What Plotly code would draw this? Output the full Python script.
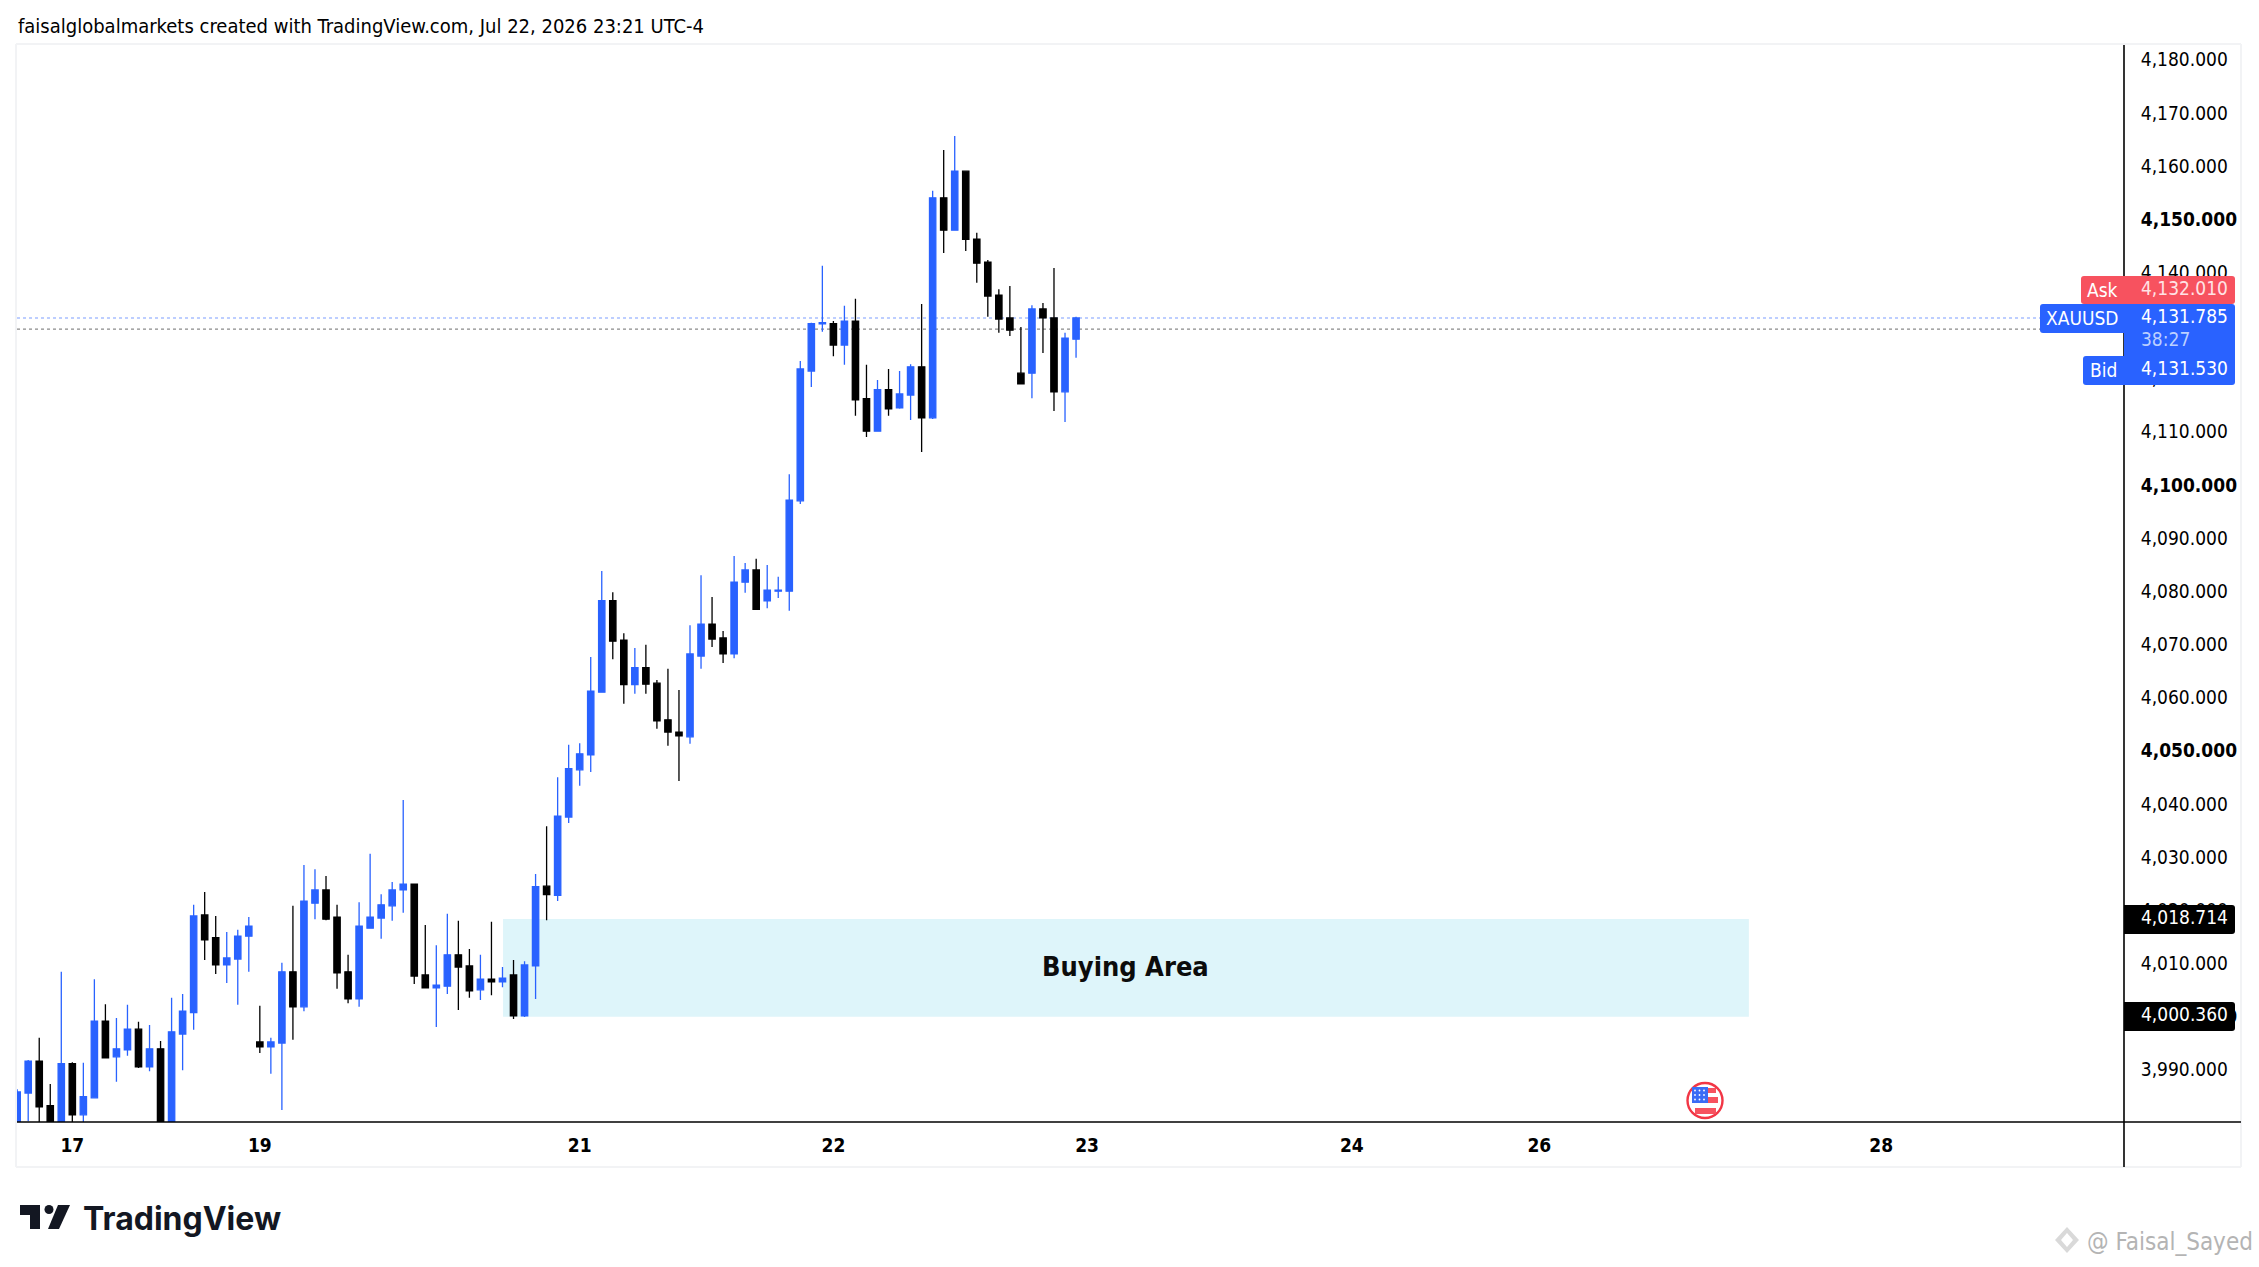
#!/usr/bin/env python3
"""XAUUSD 4H chart with the buying area, TradingView snapshot look"""

import plotly.graph_objects as go

W, H = 2259, 1267
PLOT_L, PLOT_R, PLOT_T, PLOT_B = 17, 2124, 45, 1122
FRAME_R, FRAME_B = 2241, 1167

BLUE = "#2962FF"
BLACK = "#000000"
RED = "#F7525F"
FONT = "DejaVu Sans Condensed, DejaVu Sans"

bar_index = list(range(-1, 96))

opens = [3976, 3986.0, 3992.0, 3983.6, 3975, 3991.5, 3981.9, 3985.1, 3999.5, 3992.8,
         3994.1, 3998.0, 3990.9, 3994.3, 3975, 3997.1, 4001.1, 4019.5, 4015.2, 4010.1,
         4011.2, 4015.5, 3995.6, 3994.7, 3995.4, 4008.8, 4002.2, 4021.7, 4024.2, 4019.1,
         4008.8, 4003.7, 4017.0, 4018.9, 4021.2, 4024.2, 4025.3, 4008.2, 4005.8, 4006.1,
         4012.0, 4009.9, 4005.4, 4007.4, 4006.9, 4008.2, 4000.5, 4009.9, 4024.9, 4023.2,
         4037.9, 4046.8, 4049.6, 4061.4, 4078.6, 4071.2, 4062.8, 4066.0, 4063.1, 4056.2,
         4053.9, 4053.0, 4068.2, 4074.2, 4071.6, 4068.6, 4082.1, 4084.4, 4078.6, 4080.4,
         4080.4, 4097.4, 4121.8, 4130.7, 4130.7, 4126.7, 4131.2, 4116.6, 4110.5, 4118.3,
         4114.9, 4117.3, 4122.6, 4113.0, 4154.4, 4148.3, 4159.4, 4146.6, 4142.3, 4136.1,
         4131.8, 4121.4, 4121.4, 4133.5, 4131.8, 4117.9, 4127.8]
highs = [3986.7, 3992.2, 3996.4, 3987.7, 4008.8, 3991.8, 3991.7, 4007.4, 4002.7, 4000.1,
         4002.6, 3999.4, 3998.8, 3995.8, 4003.9, 4004.6, 4021.4, 4023.8, 4019.3, 4016.3,
         4016.7, 4019.1, 4002.4, 3996.4, 4010.5, 4021.2, 4028.9, 4028.1, 4026.8, 4021.4,
         4012.0, 4021.9, 4031.0, 4023.4, 4025.7, 4041.1, 4025.3, 4017.6, 4013.8, 4019.7,
         4018.4, 4013.1, 4012.0, 4018.2, 4009.7, 4011.0, 4010.8, 4027.2, 4036.2, 4045.4,
         4051.5, 4051.8, 4068.0, 4084.2, 4080.2, 4072.5, 4069.7, 4070.3, 4063.7, 4065.8,
         4061.8, 4074.0, 4083.4, 4079.3, 4072.9, 4087.0, 4085.7, 4086.5, 4085.3, 4083.1,
         4102.4, 4123.7, 4130.9, 4141.6, 4131.2, 4134.1, 4135.4, 4123.0, 4120.1, 4122.2,
         4121.8, 4123.1, 4134.4, 4155.7, 4163.4, 4166.0, 4159.4, 4147.8, 4142.7, 4137.2,
         4137.8, 4130.1, 4134.2, 4134.6, 4141.2, 4129.0, 4132.0]
lows = [3975, 3980.7, 3979, 3974, 3972, 3976, 3978, 3985.1, 3992.6, 3988.1,
        3993.0, 3990.7, 3990.1, 3970, 3973, 3990.3, 3997.9, 4011.0, 4008.4, 4006.7,
        4002.6, 4008.8, 3993.5, 3989.6, 3982.8, 3996.0, 4001.4, 4018.7, 4018.5, 4005.6,
        4002.9, 4002.2, 4017.0, 4015.0, 4018.4, 4019.9, 4006.5, 4005.8, 3998.4, 4004.6,
        4001.6, 4003.9, 4003.5, 4004.4, 4005.9, 3999.9, 4000.3, 4003.7, 4018.5, 4022.1,
        4036.8, 4043.8, 4046.4, 4061.4, 4067.6, 4059.2, 4061.1, 4061.1, 4054.5, 4051.3,
        4044.7, 4051.7, 4065.8, 4069.9, 4066.9, 4067.8, 4080.1, 4076.9, 4077.2, 4079.1,
        4076.7, 4096.8, 4118.8, 4129.2, 4124.6, 4123.0, 4113.4, 4109.4, 4110.5, 4113.4,
        4114.7, 4112.6, 4106.6, 4112.8, 4144.0, 4148.3, 4144.4, 4138.4, 4132.0, 4129.0,
        4128.4, 4119.4, 4116.7, 4125.2, 4114.3, 4112.2, 4124.3]
closes = [3986.2, 3992.0, 3983.4, 3976, 3991.5, 3981.9, 3985.3, 3999.5, 3992.6, 3994.3,
          3998.0, 3990.9, 3994.3, 3972, 3997.5, 4001.4, 4019.3, 4014.8, 4010.1, 4011.4,
          4015.5, 4017.4, 3994.7, 3995.6, 4008.8, 4002.2, 4022.1, 4024.2, 4018.7, 4008.6,
          4003.7, 4017.4, 4019.1, 4021.4, 4024.2, 4025.3, 4008.0, 4005.8, 4006.3, 4012.0,
          4009.7, 4005.2, 4007.4, 4006.9, 4007.6, 4000.5, 4010.1, 4024.8, 4023.3, 4038.1,
          4047.0, 4049.8, 4061.6, 4078.6, 4071.0, 4062.8, 4066.0, 4062.9, 4056.0, 4053.9,
          4053.2, 4068.6, 4074.2, 4071.4, 4068.6, 4082.1, 4084.4, 4077.0, 4080.6, 4080.6,
          4097.5, 4122.2, 4130.7, 4130.9, 4126.7, 4131.2, 4116.4, 4110.5, 4118.3, 4114.7,
          4117.5, 4122.6, 4113.0, 4154.4, 4148.3, 4159.4, 4146.6, 4142.1, 4135.9, 4131.6,
          4129.5, 4119.4, 4133.5, 4131.8, 4117.9, 4128.0, 4131.785]

price_ticks = [3990, 4000, 4010, 4020, 4030, 4040, 4050, 4060, 4070, 4080, 4090, 4100,
               4110, 4120, 4130, 4140, 4150, 4160, 4170, 4180]
date_ticks = [4, 21, 50, 73, 96, 120, 137, 168]
date_labels = ["17", "19", "21", "22", "23", "24", "26", "28"]

zone_low, zone_high = 4000.36, 4018.714
zone_start, zone_end = 43.05, 156
last_price = 4131.785
prev_close = 4129.7


def xp(x):
    return (x - PLOT_L) / (PLOT_R - PLOT_L)


def yp(y):
    return 1 - (y - PLOT_T) / (PLOT_B - PLOT_T)


def box(x0, y0, x1, y1, color, layer="above"):
    return dict(type="rect", xref="paper", yref="paper", x0=xp(x0), x1=xp(x1), y0=yp(y0), y1=yp(y1),
                fillcolor=color, line_width=0, layer=layer)


def tag(x0, y0, x1, y1, color, r=3):
    # rounded on the left side only
    path = (f"M {xp(x1)} {yp(y0)} L {xp(x0 + r)} {yp(y0)} Q {xp(x0)} {yp(y0)} {xp(x0)} {yp(y0 + r)} "
            f"L {xp(x0)} {yp(y1 - r)} Q {xp(x0)} {yp(y1)} {xp(x0 + r)} {yp(y1)} L {xp(x1)} {yp(y1)} Z")
    return dict(type="path", xref="paper", yref="paper", path=path, fillcolor=color, line_width=0, layer="above")


def tag_right(x0, y0, x1, y1, color, r=3):
    path = (f"M {xp(x0)} {yp(y0)} L {xp(x1 - r)} {yp(y0)} Q {xp(x1)} {yp(y0)} {xp(x1)} {yp(y0 + r)} "
            f"L {xp(x1)} {yp(y1 - r)} Q {xp(x1)} {yp(y1)} {xp(x1 - r)} {yp(y1)} L {xp(x0)} {yp(y1)} Z")
    return dict(type="path", xref="paper", yref="paper", path=path, fillcolor=color, line_width=0, layer="above")


def seg(x0, y0, x1, y1, color, width):
    return dict(type="line", xref="paper", yref="paper", x0=xp(x0), x1=xp(x1), y0=yp(y0), y1=yp(y1),
                line=dict(color=color, width=width), layer="above")


def poly(points, color):
    path = "M " + " L ".join(f"{xp(x)} {yp(y)}" for x, y in points) + " Z"
    return dict(type="path", xref="paper", yref="paper", path=path, fillcolor=color, line_width=0, layer="above")


def circle(cx, cy, r, fill, line_color=None, line_width=0):
    return dict(type="circle", xref="paper", yref="paper", x0=xp(cx - r), x1=xp(cx + r), y0=yp(cy + r), y1=yp(cy - r),
                fillcolor=fill, line=dict(color=line_color or fill, width=line_width), layer="above")


def label(x, y, text, size=19, color=BLACK, anchor="center", family=FONT):
    return dict(xref="paper", yref="paper", x=xp(x), y=yp(y), text=text, showarrow=False, xanchor=anchor,
                yanchor="middle", font=dict(family=family, size=size, color=color))


fig = go.Figure(go.Candlestick(
    x=bar_index, open=opens, high=highs, low=lows, close=closes,
    increasing=dict(line=dict(color=BLUE, width=1.3), fillcolor=BLUE),
    decreasing=dict(line=dict(color=BLACK, width=1.3), fillcolor=BLACK),
    whiskerwidth=0, showlegend=False, hoverinfo="skip",
))

shapes = [
    # buying area
    dict(type="rect", xref="x", yref="y", x0=zone_start, x1=zone_end, y0=zone_low, y1=zone_high,
         fillcolor="#DEF5FA", line_width=0, layer="below"),
    # last price lines
    dict(type="line", xref="paper", yref="y", x0=0, x1=xp(2040), y0=last_price, y1=last_price,
         line=dict(color="#7C9EFF", width=1.2, dash="dot"), layer="below"),
    dict(type="line", xref="paper", yref="y", x0=0, x1=xp(2040), y0=prev_close, y1=prev_close,
         line=dict(color="#8A8A8A", width=1.2, dash="dot"), layer="below"),
    # outer frame and axis lines
    seg(PLOT_L - 1, PLOT_T - 1, FRAME_R, PLOT_T - 1, "#F2F3F5", 2),
    seg(PLOT_L - 1, PLOT_T - 1, PLOT_L - 1, FRAME_B, "#F2F3F5", 2),
    seg(FRAME_R, PLOT_T - 1, FRAME_R, FRAME_B, "#F2F3F5", 2),
    seg(PLOT_L - 1, FRAME_B, FRAME_R, FRAME_B, "#F2F3F5", 2),
    seg(PLOT_L, PLOT_B, FRAME_R, PLOT_B, BLACK, 1.6),
    seg(PLOT_R, PLOT_T, PLOT_R, FRAME_B, BLACK, 1.6),
    # price tags
    tag(2081, 276, 2124, 304, RED),
    tag_right(2124, 276, 2235, 304, RED),
    tag(2040, 304, 2124, 333, BLUE),
    tag_right(2124, 304, 2235, 385, BLUE),
    tag(2083, 356, 2124, 385, BLUE),
    tag_right(2124, 905, 2235, 934, BLACK),
    tag_right(2124, 1002, 2235, 1031, BLACK),
    # TradingView mark
    poly([(20, 1205), (40, 1205), (40, 1229), (30, 1229), (30, 1215), (20, 1215)], "#131722"),
    poly([(58, 1205), (70, 1205), (59, 1229), (48, 1229)], "#131722"),
    circle(49, 1209.5, 4.5, "#131722"),
    # calendar flag
    circle(1705, 1100.5, 17.5, "#FFFFFF", "#F23645", 2.4),
    box(1692, 1087, 1708, 1103, "#3B6CF5"),
    box(1708, 1088, 1716, 1093, "#F7525F"),
    box(1708, 1097, 1718, 1103, "#F7525F"),
    box(1695, 1108, 1716, 1114, "#F7525F"),
    # watermark mark
    poly([(2067, 1227), (2079, 1240), (2067, 1253), (2055, 1240)], "#D9D9D9"),
    poly([(2067, 1233), (2073, 1240), (2067, 1247), (2061, 1240)], "#FFFFFF"),
]
# stars in the flag canton
for sx in (1695, 1699.5, 1704):
    for sy in (1090.5, 1095, 1099.5):
        shapes.append(circle(sx, sy, 0.9, "#FFFFFF"))

annotations = [
    label(16, 26, "faisalglobalmarkets created with TradingView.com, Jul 22, 2026 23:21 UTC-4", size=20, anchor="left"),
    label(1125, 966, "<b>Buying Area</b>", size=27, color="#0C0C0C"),
    label(2102, 290, "Ask", color="#FFFFFF"),
    label(2184, 288, "4,132.010", color="#FFE3E5"),
    label(2082, 318, "XAUUSD", color="#FFFFFF"),
    label(2184, 316, "4,131.785", color="#FFFFFF"),
    label(2165, 339, "38:27", color="#BCD0FF"),
    label(2103, 370, "Bid", color="#FFFFFF"),
    label(2184, 368, "4,131.530", color="#FFFFFF"),
    label(2184, 917, "4,018.714", color="#FFFFFF"),
    label(2184, 1014, "4,000.360", color="#FFFFFF"),
    label(81, 1218, "<b>TradingView</b>", size=32, color="#131722", anchor="left", family="Inter"),
    label(2085, 1242, "@ Faisal_Sayed", size=24, color="#B4B4B4", anchor="left"),
]

x_left = (PLOT_L - 28.2) / 11.03
x_right = (PLOT_R - 28.2) / 11.03
y_bottom = last_price - (PLOT_B - 318) / 5.316
y_top = last_price + (318 - PLOT_T) / 5.316

fig.update_layout(
    width=W, height=H,
    margin=dict(l=PLOT_L, r=W - PLOT_R, t=PLOT_T, b=H - PLOT_B, pad=0),
    paper_bgcolor="white", plot_bgcolor="white",
    boxgap=0.18,
    hovermode=False,
    showlegend=False,
    shapes=shapes,
    annotations=annotations,
    font=dict(family=FONT, color=BLACK),
    xaxis=dict(
        range=[x_left, x_right], rangeslider=dict(visible=False), showgrid=False, zeroline=False,
        tickmode="array", tickvals=date_ticks, ticktext=[f"<b>{d}</b>" for d in date_labels],
        ticks="outside", ticklen=6, tickcolor="rgba(0,0,0,0)", tickfont=dict(size=19, family=FONT),
        showline=False,
    ),
    yaxis=dict(
        range=[y_bottom, y_top], side="right", showgrid=False, zeroline=False,
        tickmode="array", tickvals=price_ticks,
        ticktext=[f"<b>{p:,.3f}</b>" if p % 50 == 0 else f"{p:,.3f}" for p in price_ticks],
        ticks="outside", ticklen=12, tickcolor="rgba(0,0,0,0)", tickfont=dict(size=19, family=FONT),
        ticklabelshift=-2,
        showline=False,
    ),
)

fig.write_html("out.html", config={"displayModeBar": False},
               post_script="document.body.style.margin='0';")
